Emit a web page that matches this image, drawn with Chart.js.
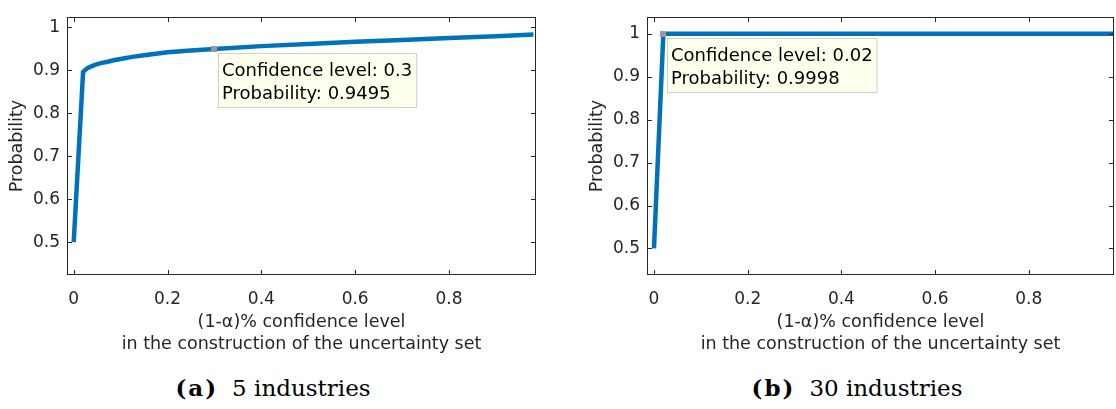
<!DOCTYPE html>
<html>
<head>
<meta charset="utf-8">
<script src="https://cdn.jsdelivr.net/npm/chart.js@4.4.1/dist/chart.umd.min.js"></script>
<style>
    body { margin: 0; background: #fff; width: 1116px; height: 409px; overflow: hidden; position: relative; }
    canvas { position: absolute; top: 0; }
    .leyenda { position: absolute; top: 374px; font-family: 'DejaVu Serif'; font-size: 23px; line-height: 28px; text-align: center; color: #000; white-space: nowrap; }
    .leyenda b { margin-right: 14px; letter-spacing: 2px; }
</style>
</head>
<body>
<canvas id="graficoA" width="558" height="355" style="left:0"></canvas>
<canvas id="graficoB" width="558" height="355" style="left:558px"></canvas>
<div class="leyenda" style="left:0;width:546px"><b>(a)</b>5 industries</div>
<div class="leyenda" style="left:557px;width:600px"><b>(b)</b>30 industries</div>
<script>
// Panel (a): 5 industries
const nivelA = [0, 0.02, 0.025, 0.03, 0.04, 0.05, 0.06, 0.07, 0.085, 0.1, 0.125, 0.15, 0.2, 0.25, 0.3, 0.4, 0.5, 0.6, 0.7, 0.8, 0.9, 0.98];
const probA = [0.5, 0.896, 0.901, 0.905, 0.910, 0.914, 0.917, 0.919, 0.923, 0.926, 0.931, 0.935, 0.942, 0.946, 0.9495, 0.956, 0.961, 0.966, 0.970, 0.975, 0.979, 0.983];

// Panel (b): 30 industries
const nivelB = [0, 0.02, 0.98];
const probB = [0.5, 0.9998, 1];

const ticksX = [0, 0.2, 0.4, 0.6, 0.8];
const ticksY = [0.5, 0.6, 0.7, 0.8, 0.9, 1];
const tituloX = ['(1-α)% confidence level', 'in the construction of the uncertainty set'];
const tituloY = 'Probability';

const colorLinea = '#0072BD';
const colorEjes = '#262626';

// marco tipo MATLAB: caja completa y ticks hacia adentro
const marcoPlugin = {
    id: 'marco',
    afterDraw(chart) {
        const { ctx, chartArea: a, scales } = chart;
        ctx.save();
        ctx.strokeStyle = colorEjes;
        ctx.lineWidth = 1;
        ctx.strokeRect(Math.round(a.left) + 0.5, Math.round(a.top) + 0.5,
            Math.round(a.right - a.left) - 1, Math.round(a.bottom - a.top) - 1);
        ctx.beginPath();
        scales.x.ticks.forEach(t => {
            const px = Math.round(scales.x.getPixelForValue(t.value)) + 0.5;
            ctx.moveTo(px, a.bottom); ctx.lineTo(px, a.bottom - 5);
            ctx.moveTo(px, a.top); ctx.lineTo(px, a.top + 5);
        });
        scales.y.ticks.forEach(t => {
            const py = Math.round(scales.y.getPixelForValue(t.value)) + 0.5;
            ctx.moveTo(a.left, py); ctx.lineTo(a.left + 5, py);
            ctx.moveTo(a.right, py); ctx.lineTo(a.right - 5, py);
        });
        ctx.stroke();

        // datatip
        const tip = chart.options.plugins.datatip;
        const punto = chart.getDatasetMeta(0).data[tip.indice];
        const lineas = [
            'Confidence level: ' + tip.nivel,
            'Probability: ' + tip.prob
        ];
        ctx.font = '18px "DejaVu Sans"';
        const ancho = Math.max(...lineas.map(l => ctx.measureText(l).width)) + 9;
        const bx = Math.round(punto.x) + 4;
        const by = Math.round(punto.y) + 4;
        ctx.fillStyle = '#FFFFEE';
        ctx.fillRect(bx, by, ancho, 55);
        ctx.strokeStyle = '#cfcfcf';
        ctx.strokeRect(bx + 0.5, by + 0.5, ancho - 1, 54);
        ctx.fillStyle = '#000';
        ctx.textBaseline = 'alphabetic';
        ctx.fillText(lineas[0], bx + 4, by + 23);
        ctx.fillText(lineas[1], bx + 4, by + 46);
        ctx.fillStyle = '#9a9a9a';
        ctx.fillRect(Math.round(punto.x) - 3, Math.round(punto.y) - 3, 6, 6);
        ctx.restore();
    }
};

const formatoTick = v => Number(v.toFixed(1)).toString();

function crearGrafico(id, xs, ys, limX, limY, padding, tip) {
    const ctx = document.getElementById(id).getContext('2d');
    return new Chart(ctx, {
        type: 'line',
        data: {
            datasets: [{
                data: xs.map((x, i) => ({ x: x, y: ys[i] })),
                borderColor: colorLinea,
                borderWidth: 4.5,
                pointRadius: 0,
                tension: 0,
                fill: false
            }]
        },
        options: {
            responsive: false,
            animation: false,
            events: [],
            layout: { padding: padding },
            scales: {
                x: {
                    type: 'linear',
                    min: limX[0],
                    max: limX[1],
                    afterBuildTicks: s => { s.ticks = ticksX.map(v => ({ value: v })); },
                    afterFit: s => { s.height = 80; },
                    grid: { display: false, drawTicks: false },
                    border: { display: false },
                    ticks: {
                        padding: 14,
                        color: colorEjes,
                        font: { family: 'DejaVu Sans', size: 17 },
                        callback: formatoTick,
                        maxRotation: 0
                    },
                    title: {
                        display: true,
                        text: tituloX,
                        color: colorEjes,
                        font: { family: 'DejaVu Sans', size: 17.5, lineHeight: 1.25 },
                        padding: { top: 0, bottom: 0 }
                    }
                },
                y: {
                    type: 'linear',
                    min: limY[0],
                    max: limY[1],
                    afterBuildTicks: s => { s.ticks = ticksY.map(v => ({ value: v })); },
                    afterFit: s => { s.width = 67; },
                    grid: { display: false, drawTicks: false },
                    border: { display: false },
                    ticks: {
                        padding: 7,
                        color: colorEjes,
                        font: { family: 'DejaVu Sans', size: 17 },
                        callback: formatoTick
                    },
                    title: {
                        display: true,
                        text: tituloY,
                        color: colorEjes,
                        font: { family: 'DejaVu Sans', size: 17.5, lineHeight: 1.2 },
                        padding: { top: 7, bottom: 0 }
                    }
                }
            },
            plugins: {
                legend: { display: false },
                tooltip: { enabled: false },
                datatip: tip
            }
        },
        plugins: [marcoPlugin]
    });
}

crearGrafico('graficoA', nivelA, probA, [-0.0143, 0.9855], [0.4235, 1.0233],
    { top: 6, right: 22, left: 0, bottom: 0 },
    { indice: 14, nivel: '0.3', prob: '0.9495' });

crearGrafico('graficoB', nivelB, probB, [-0.0149, 0.9818], [0.4382, 1.0386],
    { top: 6, right: 2, left: 22, bottom: 0 },
    { indice: 1, nivel: '0.02', prob: '0.9998' });
</script>
</body>
</html>
